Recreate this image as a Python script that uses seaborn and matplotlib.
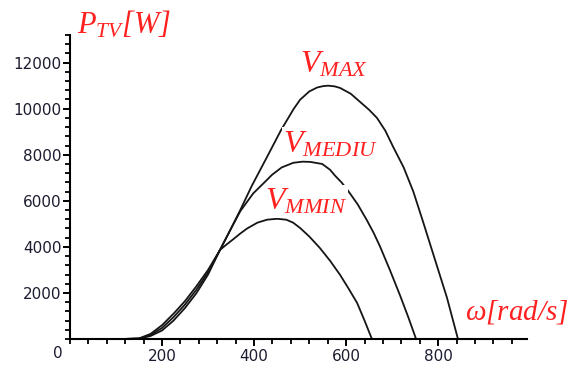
import matplotlib
matplotlib.use("Agg")
import matplotlib.pyplot as plt
import seaborn as sns
import pandas as pd
from matplotlib.ticker import FixedLocator, MultipleLocator

# ---- data ----
vmax_w = [113, 150, 175, 200, 225, 250, 275, 300, 326, 350, 370, 395, 428, 458, 472, 486, 500, 520, 537,
          550, 561, 575, 587, 610, 630, 650, 667, 685, 702, 725, 746, 767, 793, 819, 843]
vmax_p = [0, 15, 130, 370, 800, 1350, 2000, 2800, 3870, 4800, 5600, 6650, 7900, 9050, 9520, 9990, 10390, 10750, 10920,
          10980, 11000, 10970, 10900, 10650, 10300, 9950, 9600, 9050, 8350, 7450, 6400, 5100, 3450, 1800, 0]

vmed_w = [113, 150, 175, 200, 225, 250, 275, 300, 326, 350, 370, 398, 424, 439, 460, 485, 505, 522,
          548, 565, 576, 590, 602, 625, 645, 660, 674, 695, 717, 735, 752]
vmed_p = [0, 20, 170, 480, 950, 1500, 2150, 2900, 3870, 4800, 5550, 6320, 6830, 7130, 7450, 7650, 7700, 7690,
          7600, 7350, 7090, 6800, 6500, 5850, 5160, 4600, 4000, 3000, 1900, 950, 0]

vmin_w = [113, 150, 175, 200, 225, 250, 275, 300, 326, 340, 354, 370, 385, 407, 428, 450, 470, 485,
          500, 520, 543, 565, 587, 605, 624, 640, 656]
vmin_p = [0, 25, 220, 600, 1100, 1650, 2300, 3000, 3870, 4100, 4320, 4580, 4800, 5050, 5180, 5220, 5180, 5050,
          4820, 4450, 3950, 3400, 2780, 2200, 1560, 800, 0]

x_ticks = [200, 400, 600, 800]
y_ticks = [2000, 4000, 6000, 8000, 10000, 12000]

frames = []
for name, w, p in [("VMAX", vmax_w, vmax_p), ("VMEDIU", vmed_w, vmed_p), ("VMMIN", vmin_w, vmin_p)]:
    frames.append(pd.DataFrame({"omega": w, "P": p, "curve": name}))
df = pd.concat(frames, ignore_index=True)

sns.set_style("white")
plt.rcParams["font.family"] = ["DejaVu Sans"]
plt.rcParams["mathtext.fontset"] = "custom"
plt.rcParams["mathtext.it"] = "Liberation Serif:italic"
plt.rcParams["mathtext.rm"] = "Liberation Serif:italic"
plt.rcParams["mathtext.default"] = "it"

fig = plt.figure(figsize=(5.72, 3.66), dpi=100)
ax = fig.add_axes([70 / 572, 27 / 366, 457 / 572, 304 / 366])

sns.lineplot(data=df, x="omega", y="P", hue="curve", estimator=None, sort=False,
             palette={"VMAX": "#151515", "VMEDIU": "#151515", "VMMIN": "#151515"},
             linewidth=1.3, legend=False, ax=ax)

ax.set_xlim(0, 993)
ax.set_ylim(0, 13200)
ax.set_xlabel("")
ax.set_ylabel("")
for s in ["top", "right"]:
    ax.spines[s].set_visible(False)
for s in ["left", "bottom"]:
    ax.spines[s].set_color("black")
    ax.spines[s].set_linewidth(1.5)

ax.xaxis.set_major_locator(FixedLocator(x_ticks))
ax.yaxis.set_major_locator(FixedLocator(y_ticks))
ax.xaxis.set_minor_locator(MultipleLocator(40))
ax.yaxis.set_minor_locator(MultipleLocator(400))
ax.tick_params(which="both", bottom=True, left=True, top=False, right=False)
ax.tick_params(which="major", direction="out", length=5, width=1.4, color="black",
               labelsize=11, labelcolor="#1c1c30", pad=2)
ax.tick_params(which="minor", direction="out", length=3.5, width=1.3, color="black")
ax.tick_params(axis="y", which="major", pad=1)

ax.annotate("0", xy=(0, 0), xytext=(-12, -14), textcoords="offset pixels",
            ha="center", va="center", fontsize=11, color="#1c1c30", annotation_clip=False)

red = "#ff2020"
box = dict(facecolor="white", edgecolor="none", pad=0.8)
ax.text(500, 11590, r"$V_{MAX}$", fontsize=23, color=red, ha="left", va="baseline", zorder=5)
ax.text(463, 8116, r"$V_{MEDIU}$", fontsize=23, color=red, ha="left", va="baseline", bbox=box, zorder=5)
ax.text(424, 5620, r"$V_{MMIN}$", fontsize=23, color=red, ha="left", va="baseline", bbox=box, zorder=5)
ax.text(15, 13280, r"$P_{TV}[W]$", fontsize=22, color=red, ha="left", va="baseline", zorder=5)
ax.text(859, 868, r"$\omega[rad/s]$", fontsize=21, color=red, ha="left", va="baseline", zorder=5)

fig.savefig("out.png", dpi=100)
